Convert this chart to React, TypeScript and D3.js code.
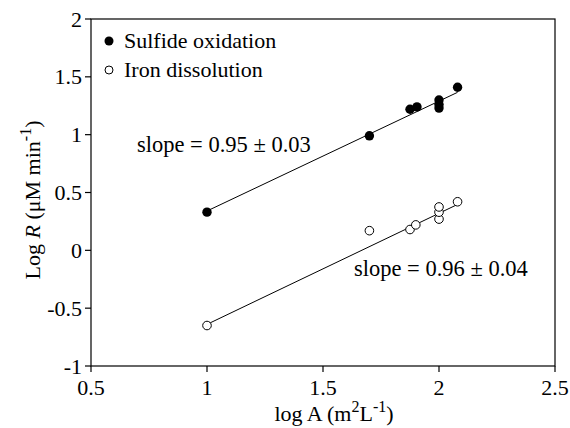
import React from "react";
import * as d3 from "d3";

const sulfideX = [1.0, 1.7, 1.875, 1.905, 2.0, 2.0, 2.0, 2.08];
const sulfideY = [0.33, 0.99, 1.22, 1.24, 1.23, 1.26, 1.30, 1.41];
const ironX = [1.0, 1.7, 1.875, 1.9, 2.0, 2.0, 2.0, 2.08];
const ironY = [-0.65, 0.17, 0.18, 0.22, 0.27, 0.33, 0.375, 0.42];
const sulfideFit = { slope: 0.95, intercept: -0.61, x0: 1.0, x1: 2.08 };
const ironFit = { slope: 0.96, intercept: -1.6, x0: 1.0, x1: 2.08 };
const xTicks = [0.5, 1, 1.5, 2, 2.5];
const yTicks = [-1, -0.5, 0, 0.5, 1, 1.5, 2];
const legendLabels = ["Sulfide oxidation", "Iron dissolution"];
const slopeLabels = ["slope = 0.95 \u00b1 0.03", "slope = 0.96 \u00b1 0.04"];

const W = 570, H = 428;
const M = { left: 91, right: 555, top: 19, bottom: 366 };
const FONT = "'Liberation Serif', 'Times New Roman', serif";

export default function App() {
  const x = d3.scaleLinear().domain([0.5, 2.5]).range([M.left, M.right]);
  const y = d3.scaleLinear().domain([-1, 2]).range([M.bottom, M.top]);
  const line = d3.line<number[]>().x((d) => x(d[0])).y((d) => y(d[1]));
  const fitPath = (f: typeof sulfideFit) =>
    line([[f.x0, f.slope * f.x0 + f.intercept], [f.x1, f.slope * f.x1 + f.intercept]]) || "";
  return (
    <svg width={W} height={H} style={{ position: "absolute", left: 0, top: 0, background: "#fff" }} fontFamily={FONT}>
      <rect x={0} y={0} width={W} height={H} fill="#fff" />
      <rect x={M.left} y={M.top} width={M.right - M.left} height={M.bottom - M.top} fill="none" stroke="#000" strokeWidth={1.2} />
      {xTicks.map((t) => (
        <g key={"x" + t}>
          <line x1={x(t)} x2={x(t)} y1={M.bottom} y2={M.bottom + 6} stroke="#000" strokeWidth={1.2} />
          <text x={x(t)} y={M.bottom + 29} textAnchor="middle" fontSize={22}>{String(t)}</text>
        </g>
      ))}
      {yTicks.map((t) => (
        <g key={"y" + t}>
          <line x1={M.left - 6} x2={M.left} y1={y(t)} y2={y(t)} stroke="#000" strokeWidth={1.2} />
          <text x={M.left - 9} y={y(t) + 7.5} textAnchor="end" fontSize={22}>{String(t)}</text>
        </g>
      ))}
      <path d={fitPath(sulfideFit)} stroke="#000" strokeWidth={1} fill="none" />
      <path d={fitPath(ironFit)} stroke="#000" strokeWidth={1} fill="none" />
      {sulfideX.map((v, i) => (
        <circle key={"s" + i} cx={x(v)} cy={y(sulfideY[i])} r={4.7} fill="#000" />
      ))}
      {ironX.map((v, i) => (
        <circle key={"i" + i} cx={x(v)} cy={y(ironY[i])} r={4.3} fill="#fff" stroke="#000" strokeWidth={1} />
      ))}
      <circle cx={109} cy={41} r={4.5} fill="#000" />
      <text x={124} y={48} fontSize={22}>{legendLabels[0]}</text>
      <circle cx={109} cy={70} r={4} fill="#fff" stroke="#000" strokeWidth={1} />
      <text x={124} y={77} fontSize={22}>{legendLabels[1]}</text>
      <text x={137} y={152} fontSize={22.5}>{slopeLabels[0]}</text>
      <text x={354} y={276} fontSize={22.5}>{slopeLabels[1]}</text>
      <text x={334} y={421} textAnchor="middle" fontSize={22}>
        log A (m<tspan dy={-9} fontSize={16}>2</tspan><tspan dy={9}>L</tspan><tspan dy={-9} fontSize={16}>-1</tspan><tspan dy={9}>)</tspan>
      </text>
      <text transform={`translate(40,200) rotate(-90)`} textAnchor="middle" fontSize={22}>
        Log <tspan fontStyle="italic">R</tspan> (μM min<tspan dy={-9} fontSize={16}>-1</tspan><tspan dy={9}>)</tspan>
      </text>
    </svg>
  );
}
